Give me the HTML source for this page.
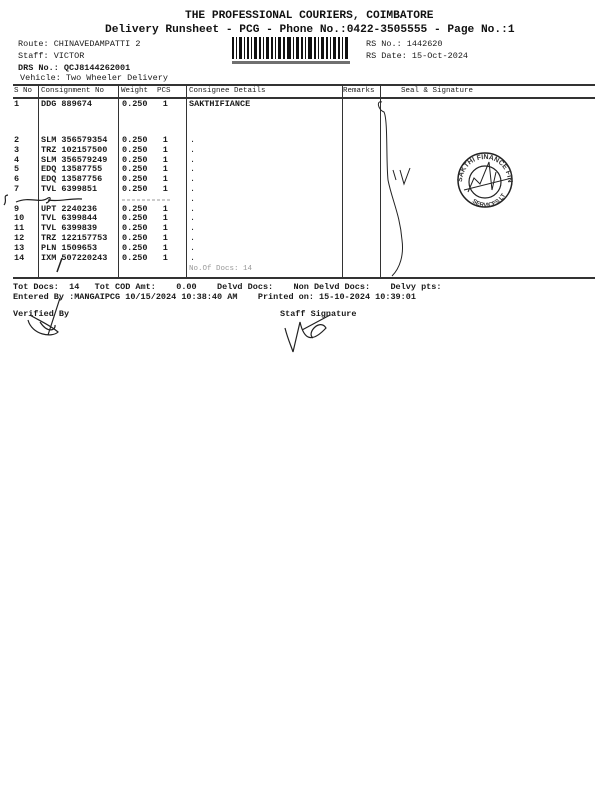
<!DOCTYPE html>
<html><head><meta charset="utf-8"><style>
body{margin:0;width:600px;height:800px;background:#fff;position:relative;overflow:hidden;font-family:"Liberation Mono",monospace;color:#1a1a1a}
.t{position:absolute;font-size:8.5px;white-space:pre;line-height:10px}
.b{font-weight:bold}
.h{position:absolute;font-size:11.2px;font-weight:bold;white-space:pre;color:#111}
.ln{position:absolute;background:#333}
</style></head><body>
<div class="h" style="left:185px;top:10px">THE PROFESSIONAL COURIERS, COIMBATORE</div>
<div class="h" style="left:105px;top:24px">Delivery Runsheet - PCG - Phone No.:0422-3505555 - Page No.:1</div>
<div class="t" style="left:18px;top:39px">Route: CHINAVEDAMPATTI 2</div>
<div class="t" style="left:18px;top:51px">Staff: VICTOR</div>
<div class="t b" style="left:18px;top:63px">DRS No.: QCJ8144262001</div>
<div class="t" style="left:20px;top:73px">Vehicle: Two Wheeler Delivery</div>
<div class="t" style="left:366px;top:39px">RS No.: 1442620</div>
<div class="t" style="left:366px;top:51px">RS Date: 15-Oct-2024</div>
<svg style="position:absolute;left:232px;top:37px" width="118" height="28">
<g fill="#111">
<rect x="0" y="0" width="2" height="22"/><rect x="4" y="0" width="1" height="22"/><rect x="7" y="0" width="3" height="22"/><rect x="12" y="0" width="1" height="22"/><rect x="15" y="0" width="2" height="22"/><rect x="19" y="0" width="1" height="22"/><rect x="22" y="0" width="3" height="22"/><rect x="27" y="0" width="2" height="22"/><rect x="31" y="0" width="1" height="22"/><rect x="34" y="0" width="3" height="22"/><rect x="39" y="0" width="2" height="22"/><rect x="43" y="0" width="1" height="22"/><rect x="46" y="0" width="3" height="22"/><rect x="51" y="0" width="2" height="22"/><rect x="55" y="0" width="4" height="22"/><rect x="61" y="0" width="1" height="22"/><rect x="64" y="0" width="3" height="22"/><rect x="69" y="0" width="2" height="22"/><rect x="73" y="0" width="1" height="22"/><rect x="76" y="0" width="4" height="22"/><rect x="82" y="0" width="2" height="22"/><rect x="86" y="0" width="1" height="22"/><rect x="89" y="0" width="3" height="22"/><rect x="94" y="0" width="2" height="22"/><rect x="98" y="0" width="1" height="22"/><rect x="101" y="0" width="3" height="22"/><rect x="106" y="0" width="2" height="22"/><rect x="110" y="0" width="1" height="22"/><rect x="113" y="0" width="3" height="22"/>
<rect x="0" y="24" width="118" height="3" opacity=".6"/>
</g></svg>
<div class="ln" style="left:13px;top:84px;width:582px;height:1.5px"></div>
<div class="ln" style="left:13px;top:97px;width:582px;height:1.5px"></div>
<div class="ln" style="left:13px;top:277px;width:582px;height:1.5px"></div>
<div class="ln" style="left:38px;top:84px;width:1px;height:193px"></div>
<div class="ln" style="left:118px;top:84px;width:1px;height:193px"></div>
<div class="ln" style="left:186px;top:84px;width:1px;height:193px"></div>
<div class="ln" style="left:342px;top:84px;width:1px;height:193px"></div>
<div class="ln" style="left:380px;top:84px;width:1px;height:193px"></div>
<div class="t" style="left:14px;top:86px;font-size:7.5px">S No</div>
<div class="t" style="left:41px;top:86px;font-size:7.5px">Consignment No</div>
<div class="t" style="left:121px;top:86px;font-size:7.5px">Weight  PCS</div>
<div class="t" style="left:189px;top:86px;font-size:7.5px">Consignee Details</div>
<div class="t" style="left:343px;top:86px;font-size:7.5px">Remarks</div>
<div class="t" style="left:401px;top:86px;font-size:7.5px">Seal &amp; Signature</div>
<div class="t b" style="left:14px;top:99px">1</div>
<div class="t b" style="left:41px;top:99px">DDG 889674</div>
<div class="t b" style="left:122px;top:99px">0.250   1</div>
<div class="t b" style="left:189px;top:99px">SAKTHIFIANCE</div>
<div class="t b" style="left:14px;top:136px;line-height:9.8px">2
3
4
5
6
7

9
10
11
12
13
14</div>
<div class="t b" style="left:41px;top:136px;line-height:9.8px">SLM 356579354
TRZ 102157500
SLM 356579249
EDQ 13587755
EDQ 13587756
TVL 6399851

UPT 2240236
TVL 6399844
TVL 6399839
TRZ 122157753
PLN 1509653
IXM 507220243</div>
<div class="t b" style="left:122px;top:136px;line-height:9.8px">0.250   1
0.250   1
0.250   1
0.250   1
0.250   1
0.250   1

0.250   1
0.250   1
0.250   1
0.250   1
0.250   1
0.250   1</div>
<div class="t" style="left:190px;top:136px;line-height:9.8px">.
.
.
.
.
.
.
.
.
.
.
.
.</div>
<div class="t" style="left:189px;top:264px;color:#999;font-size:7.5px">No.Of Docs: 14</div>
<div class="t b" style="left:13px;top:282px">Tot Docs:  14   Tot COD Amt:    0.00    Delvd Docs:    Non Delvd Docs:    Delvy pts:</div>
<div class="t b" style="left:13px;top:292px">Entered By :MANGAIPCG 10/15/2024 10:38:40 AM    Printed on: 15-10-2024 10:39:01</div>
<div class="t b" style="left:13px;top:309px">Verified By</div>
<div class="t b" style="left:280px;top:309px">Staff Signature</div>
<svg style="position:absolute;left:0;top:0" width="600" height="800" fill="none" stroke="#222" stroke-width="1">
<path d="M8 195 C2 196 8 200 4 205 M16 202 C30 196 40 204 48 198 C52 196 50 202 46 203 M48 200 C60 202 70 198 82 199" stroke-width="1.2"/>
<path d="M122 200 L170 200" stroke="#999" stroke-dasharray="3 2"/>
<path d="M62 258 L57 272" stroke-width="1.5"/>
<path d="M382 102 C376 100 378 110 384 112 C388 120 386 160 388 180 C392 200 400 215 402 240 C404 255 400 268 392 276"/>
<path d="M393 170 L396 180 M400 170 L404 184 L410 168"/>
<circle cx="485" cy="180" r="27" stroke-width="1.5"/>
<circle cx="485" cy="182" r="16" stroke-width="1.2"/>
<path d="M468 192 L474 178 L480 184 L489 162 L492 190 L496 172 M464 190 L512 178"/>
<path d="M60 298 L48 335 M28 320 C32 335 52 338 58 332 C50 325 38 320 30 315 M40 322 C48 334 56 330 55 325" stroke-width="1.2"/>
<path d="M285 328 C288 340 292 348 293 352 L300 322 C304 340 312 343 326 328 C320 318 306 333 313 338 M302 330 L330 315" stroke-width="1.2"/>
</svg>
<svg style="position:absolute;left:0;top:0" width="600" height="800">
<defs><path id="arc" d="M462 182 A23 23 0 0 1 508 182"/><path id="arc2" d="M466 194 A22 22 0 0 0 506 194"/></defs>
<text font-family="Liberation Sans,sans-serif" font-size="7" font-weight="bold" fill="#333"><textPath href="#arc">SAKTHI FINANCE FINANCIAL</textPath></text>
<text font-family="Liberation Sans,sans-serif" font-size="6" font-weight="bold" fill="#333"><textPath href="#arc2" startOffset="10">SERVICES LTD</textPath></text>
</svg>
</body></html>
